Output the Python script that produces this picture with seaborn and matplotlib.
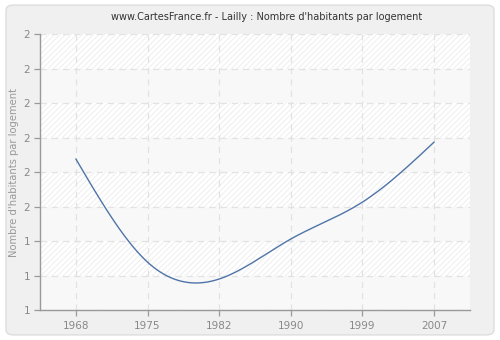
import numpy as np
import matplotlib
matplotlib.use("Agg")
import matplotlib.pyplot as plt
import seaborn as sns
from matplotlib.patches import FancyBboxPatch
from matplotlib.ticker import FixedLocator, FuncFormatter

years = ["1968", "1975", "1982", "1990", "1999", "2007"]
values = [1.638, 1.339, 1.290, 1.406, 1.513, 1.687]
y_ticks = [1.2, 1.3, 1.4, 1.5, 1.6, 1.7, 1.8, 1.9, 2.0]
title = "www.CartesFrance.fr - Lailly : Nombre d'habitants par logement"
ylabel = "Nombre d'habitants par logement"


def natural_spline(x, y, n=400):
    x = np.asarray(x, float)
    y = np.asarray(y, float)
    k = len(x)
    h = np.diff(x)
    A = np.zeros((k, k))
    b = np.zeros(k)
    A[0, 0] = 1
    A[-1, -1] = 1
    for i in range(1, k - 1):
        A[i, i - 1] = h[i - 1]
        A[i, i] = 2 * (h[i - 1] + h[i])
        A[i, i + 1] = h[i]
        b[i] = 3 * ((y[i + 1] - y[i]) / h[i] - (y[i] - y[i - 1]) / h[i - 1])
    c = np.linalg.solve(A, b)
    xs = np.linspace(x[0], x[-1], n)
    ys = np.empty_like(xs)
    for j, xv in enumerate(xs):
        i = min(np.searchsorted(x, xv, side="right") - 1, k - 2)
        dx = xv - x[i]
        bi = (y[i + 1] - y[i]) / h[i] - h[i] * (2 * c[i] + c[i + 1]) / 3
        di = (c[i + 1] - c[i]) / (3 * h[i])
        ys[j] = y[i] + bi * dx + c[i] * dx ** 2 + di * dx ** 3
    return xs, ys


sns.set_theme(style="white")
plt.rcParams["font.family"] = ["DejaVu Sans"]
plt.rcParams["hatch.color"] = "#ececec"
plt.rcParams["hatch.linewidth"] = 0.6

fig = plt.figure(figsize=(5.0, 3.4), dpi=100)
fig.patch.set_facecolor("white")
frame = FancyBboxPatch((0.012, 0.015), 0.976, 0.97,
                       boxstyle="round,pad=0,rounding_size=0.015",
                       transform=fig.transFigure, facecolor="#f0f0f0",
                       edgecolor="#dddddd", linewidth=1.0, zorder=-10)
fig.patches.append(frame)

ax = fig.add_axes([0.08, 0.088, 0.86, 0.812])
ax.set_zorder(1)
ax.set_facecolor("white")

# alternating bands
for i in range(len(y_ticks) - 1):
    lo, hi = y_ticks[i], y_ticks[i + 1]
    if i % 2 == 0:
        ax.axhspan(lo, hi, facecolor="#f8f8f8", edgecolor="none", zorder=0)
    else:
        ax.axhspan(lo, hi, facecolor="white", edgecolor="#ececec",
                   hatch="//////", linewidth=0, zorder=0)

xpos = np.arange(len(years))
xs, ys = natural_spline(xpos, values)
sns.lineplot(x=xs, y=ys, ax=ax, color="#4f74a8", linewidth=1.0, zorder=3)

ax.set_xlim(-0.5, len(years) - 0.5)
ax.set_ylim(y_ticks[0], y_ticks[-1])
ax.set_xticks(xpos)
ax.set_xticklabels(years)
ax.yaxis.set_major_locator(FixedLocator(y_ticks))
ax.yaxis.set_major_formatter(FuncFormatter(lambda v, p: str(int(np.floor(v + 0.5 + 1e-9)))))

ax.grid(True, color="#e2e2e2", linestyle=(0, (5, 4)), linewidth=0.9, zorder=1)
ax.set_axisbelow(True)
for s in ["top", "right"]:
    ax.spines[s].set_visible(False)
for s in ["left", "bottom"]:
    ax.spines[s].set_color("#999999")
    ax.spines[s].set_linewidth(1.0)
ax.tick_params(axis="both", bottom=True, left=True, colors="#999999",
               labelcolor="#888888", labelsize=7.5, length=4, width=0.9,
               direction="out", pad=3)
ax.tick_params(axis="x", pad=4)
ax.set_ylabel(ylabel, fontsize=7.2, color="#999999", labelpad=3)
ax.set_xlabel("")
fig.text(0.533, 0.95, title, ha="center", va="center", fontsize=7.0, color="#333333")

fig.savefig("out.png", dpi=100, facecolor=fig.get_facecolor())
